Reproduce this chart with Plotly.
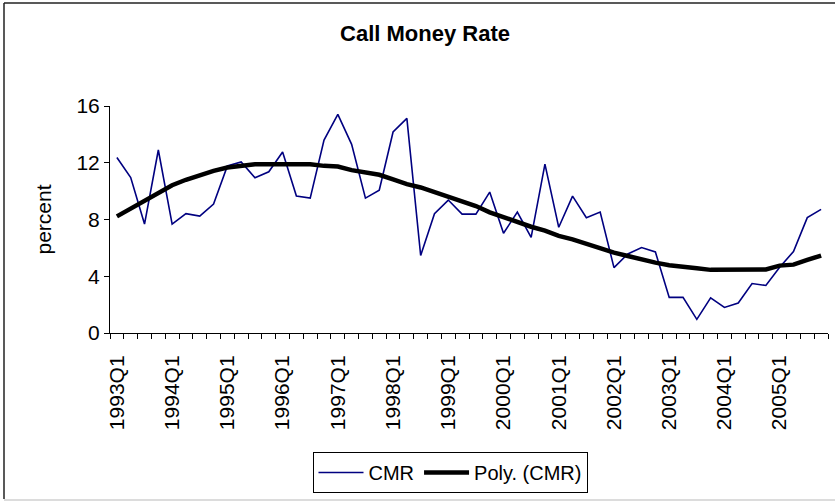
import plotly.graph_objects as go

quarters = [f"{y}Q{q}" for y in range(1993, 2006) for q in range(1, 5)]

cmr = [12.37, 10.96, 7.68, 12.9, 7.68, 8.41, 8.24, 9.09, 11.78, 12.06, 10.94, 11.36, 12.76,
       9.65, 9.51, 13.6, 15.41, 13.3, 9.51, 10.07, 14.17, 15.13, 5.46, 8.41, 9.37, 8.38,
       8.38, 9.93, 7.03, 8.52, 6.74, 11.9, 7.45, 9.65, 8.13, 8.52, 4.61, 5.57, 6.02, 5.71,
       2.51, 2.51, 0.96, 2.48, 1.8, 2.11, 3.49, 3.35, 4.64, 5.74, 8.13, 8.71]

poly = [8.22, 8.78, 9.37, 9.95, 10.42, 10.80, 11.15, 11.43, 11.66, 11.80, 11.90, 11.90, 11.90,
        11.90, 11.90, 11.78, 11.73, 11.48, 11.33, 11.15, 10.82, 10.49, 10.26, 9.93, 9.65, 9.25,
        8.95, 8.50, 8.15, 7.87, 7.49, 7.21, 6.84, 6.60, 6.28, 6.04, 5.67, 5.43, 5.18, 4.96,
        4.78, 4.64, 4.57, 4.45, 4.45, 4.45, 4.45, 4.48, 4.75, 4.82, 5.15, 5.46]

y_ticks = [0, 4, 8, 12, 16]
label_idx = list(range(0, len(quarters), 4))
xs = list(range(len(quarters)))

fig = go.Figure()
fig.add_trace(go.Scatter(x=xs, y=cmr, mode="lines", name="CMR",
                         line=dict(color="#000080", width=1.6)))
fig.add_trace(go.Scatter(x=xs, y=poly, mode="lines", name="Poly. (CMR)",
                         line=dict(color="black", width=4.5)))

font = "Liberation Sans, Arial, sans-serif"
PW, PH, L, T = 718, 227, 110, 106
fig.update_layout(
    width=835, height=501,
    margin=dict(l=L, r=835 - L - PW, t=T, b=501 - T - PH),
    paper_bgcolor="white", plot_bgcolor="white",
    font=dict(family=font, size=21, color="black"),
    title=dict(text="<b>Call Money Rate</b>", x=425/835, xanchor="center",
               y=1-33/501, yanchor="middle", font=dict(size=22)),
    showlegend=True,
    legend=dict(orientation="h", x=(450-L)/PW, xanchor="center",
                y=(T + PH - 452)/PH, yanchor="top",
                bordercolor="black", borderwidth=1, bgcolor="white",
                font=dict(size=20), tracegroupgap=0, itemwidth=45),
)
fig.update_xaxes(
    range=[-0.5, len(quarters)-0.5], automargin=False,
    tickmode="array", tickvals=[xs[i] for i in label_idx],
    ticktext=[quarters[i] for i in label_idx],
    tickangle=-90, ticks="", showgrid=False, zeroline=False,
    showline=True, linecolor="black", linewidth=1,
    ticklabelstandoff=13,
    minor=dict(tick0=-0.5, dtick=1, ticks="outside", ticklen=5,
               tickcolor="black", showgrid=False),
    tickfont=dict(size=21),
)
fig.update_yaxes(
    range=[0, 16], tickvals=y_ticks, ticks="outside", ticklen=5, automargin=False,
    tickcolor="black", showgrid=False, zeroline=False,
    showline=True, linecolor="black", linewidth=1,
    title=dict(text="percent", font=dict(size=21), standoff=19),
    tickfont=dict(size=21),
)
# outer chart frame
fx0 = (4 - L) / PW
fig.add_shape(type="line", xref="paper", yref="paper", x0=fx0, x1=fx0,
              y0=(T + PH - 499)/PH, y1=(T + PH - 3)/PH, line=dict(color="#222", width=1.5))
fig.add_shape(type="line", xref="paper", yref="paper", x0=fx0, x1=(836 - L)/PW,
              y0=(T + PH - 3)/PH, y1=(T + PH - 3)/PH, line=dict(color="#222", width=1.5))
fig.add_shape(type="line", xref="paper", yref="paper", x0=fx0, x1=(836 - L)/PW,
              y0=(T + PH - 500)/PH, y1=(T + PH - 500)/PH, line=dict(color="#d0d0d0", width=1.5))

fig.write_html("out.html", config={"displayModeBar": False},
               post_script="document.body.style.margin='0';document.body.style.overflow='hidden';")
